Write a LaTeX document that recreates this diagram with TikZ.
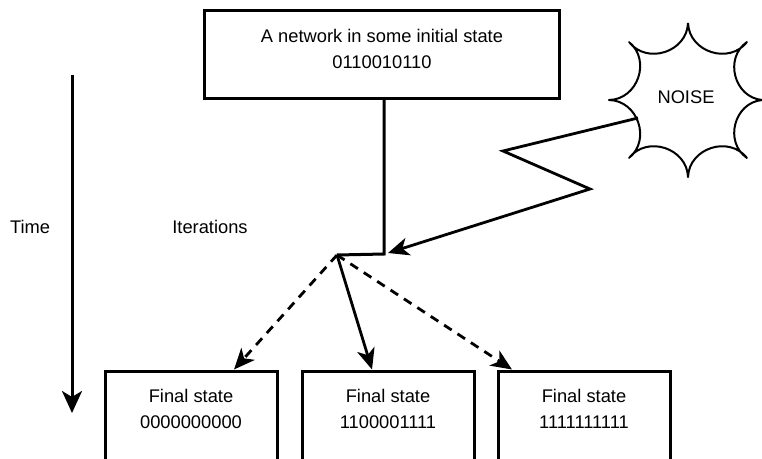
\documentclass[tikz,border=0pt]{standalone}
\usepackage{fontspec}
\setmainfont{Liberation Sans}
\usetikzlibrary{arrows.meta}
\begin{document}
\begin{tikzpicture}[x=1pt,y=-1pt,
  box/.style={draw, line width=3pt, inner sep=0pt},
  lbl/.style={anchor=base, inner sep=0pt, font=\fontsize{18.3}{22}\selectfont},
  conn/.style={line width=3pt},
  arr/.style={line width=2.8pt, -{Stealth[length=21pt,width=18pt,inset=6pt]}},
  darr/.style={arr, dash pattern=on 9pt off 7pt},
  noiseline/.style={line width=2pt, line join=round}]
\useasboundingbox (0,0) rectangle (762,458);
\clip (0,0) rectangle (762,458);
% top box
\node[box, minimum width=355pt, minimum height=88pt] (init) at (381.5,54) {};
\node[lbl] (inita) at (382,42) {A network in some initial state};
\node[lbl] (initb) at (382,68) {0110010110};
% bottom boxes
\node[box, minimum width=172pt, minimum height=120pt] (f1) at (191,431) {};
\node[box, minimum width=172pt, minimum height=120pt] (f2) at (388,431) {};
\node[box, minimum width=172pt, minimum height=120pt] (f3) at (584,431) {};
\node[lbl] (f1a) at (191,402) {Final state};
\node[lbl] (f1b) at (191,428) {0000000000};
\node[lbl] (f2a) at (388,402) {Final state};
\node[lbl] (f2b) at (388,428) {1100001111};
\node[lbl] (f3a) at (584,402) {Final state};
\node[lbl] (f3b) at (584,428) {1111111111};
% side labels
\node[lbl] (time) at (30,233) {Time};
\node[lbl] (iter) at (210,233) {Iterations};
% time arrow
\coordinate (ts) at (72,75);
\coordinate (te) at (72,413);
\draw[line width=3pt, -{Stealth[length=22pt,width=20pt,inset=6pt]}] (ts) -- (te);
% noise burst
\node[lbl, anchor=center] (noise) at (686,97) {NOISE};
\coordinate (nT) at (688,23);
\coordinate (nUR) at (747,42);
\coordinate (nR) at (762,100);
\coordinate (nLR) at (747,158);
\coordinate (nB) at (688,177);
\coordinate (nLL) at (629,158);
\coordinate (nL) at (609,100);
\coordinate (nUL) at (629,42);
\draw[noiseline, bend right=70, looseness=1.2]
  (nT) to (nUR) to (nR) to (nLR) to (nB) to (nLL) to (nL) to (nUL) to (nT);
% junction
\coordinate (jv) at (384,254);
\coordinate (j) at (337,255);
\draw[conn] (init.south -| jv) -- (jv) -- (j);
% noise arrow
\coordinate (n0) at (638,118);
\coordinate (z1) at (503,151);
\coordinate (z2) at (590,189);
\coordinate (jt) at (388,253);
\draw[arr] (n0) -- (z1) -- (z2) -- (jt);
% outcome arrows
\draw[darr] (j) -- ([xshift=43pt]f1.north);
\draw[arr] (j) -- ([xshift=-16pt]f2.north);
\draw[darr] (j) -- ([xshift=-72pt]f3.north);
\end{tikzpicture}
\end{document}
